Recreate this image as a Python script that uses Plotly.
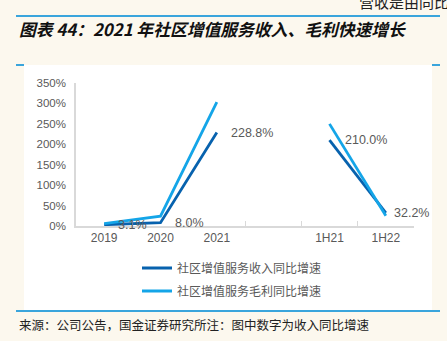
import plotly.graph_objects as go

categories = ["2019", "2020", "2021", " ", "1H21", "1H22"]
revenue_growth = [3.1, 8.0, 228.8, None, 210.0, 32.2]
margin_growth = [6.0, 24.0, 303.0, None, 250.0, 25.0]
y_ticks = [0, 50, 100, 150, 200, 250, 300, 350]
y_ticktext = [f"{v}%" for v in y_ticks]
label_text = ["3.1%", "8.0%", "228.8%", None, "210.0%", "32.2%"]

DARK = "#0762ae"
LIGHT = "#14a5e8"
GRAY = "#595959"
CREAM = "#fcf8ee"
ACCENT = "#3aa5dc"
NUM_FONT = "Liberation Sans, Arial, sans-serif"
CJK_FONT = "Noto Sans CJK SC, sans-serif"

W_PX, H_PX = 447, 341
L, R, T, B = 76, 414, 83, 226


def fx(px):
    return px / W_PX


def fy(py):
    return 1 - py / H_PX


fig = go.Figure()
fig.add_trace(go.Scatter(
    x=categories, y=revenue_growth, mode="lines", name="社区增值服务收入同比增速",
    line=dict(color=DARK, width=2.8), connectgaps=False, legend="legend"))
fig.add_trace(go.Scatter(
    x=categories, y=margin_growth, mode="lines", name="社区增值服务毛利同比增速",
    line=dict(color=LIGHT, width=2.8), connectgaps=False, legend="legend2"))

annotations = []
shifts = [12, 12, 12, 0, 13, 6]
for i, (v, t, s) in enumerate(zip(revenue_growth, label_text, shifts)):
    if v is None:
        continue
    annotations.append(dict(x=i, y=v, xref="x", yref="y", text=t, showarrow=False,
                            xanchor="left", yanchor="middle", xshift=s,
                            font=dict(family=NUM_FONT, size=12.5, color=GRAY)))

annotations.append(dict(x=fx(17), y=fy(29), xref="paper", yref="paper",
                        text="<b><i>图表 44：2021 年社区增值服务收入、毛利快速增长</i></b>",
                        showarrow=False, xanchor="left", yanchor="middle",
                        font=dict(family=CJK_FONT, size=16.8, color="#111111")))
annotations.append(dict(x=fx(17), y=fy(324), xref="paper", yref="paper",
                        text="来源：公司公告，国金证券研究所注：图中数字为收入同比增速",
                        showarrow=False, xanchor="left", yanchor="middle",
                        font=dict(family=CJK_FONT, size=12.5, color="#222222")))
annotations.append(dict(x=fx(357), y=1, xref="paper", yref="paper", yshift=-1,
                        text="营收是由同比", showarrow=False, xanchor="left",
                        yanchor="middle",
                        font=dict(family=CJK_FONT, size=15, color="#222222")))

shapes = [
    dict(type="rect", xref="paper", yref="paper", x0=fx(24), x1=fx(432), y0=fy(65), y1=fy(310),
         fillcolor="white", line=dict(width=0), layer="below"),
    dict(type="line", xref="paper", yref="paper", x0=fx(16), x1=fx(440), y0=fy(16), y1=fy(16),
         line=dict(color=ACCENT, width=2)),
    dict(type="line", xref="paper", yref="paper", x0=fx(16), x1=fx(440), y0=fy(311), y1=fy(311),
         line=dict(color=ACCENT, width=2)),
    dict(type="line", xref="paper", yref="paper", x0=fx(16), x1=fx(24), y0=fy(65), y1=fy(65),
         line=dict(color=ACCENT, width=2)),
    dict(type="line", xref="paper", yref="paper", x0=fx(432), x1=fx(440), y0=fy(65), y1=fy(65),
         line=dict(color=ACCENT, width=2)),
]

fig.update_layout(
    width=W_PX, height=H_PX,
    margin=dict(l=0, r=0, t=0, b=0, pad=0, autoexpand=False),
    paper_bgcolor=CREAM, plot_bgcolor="white",
    showlegend=True,
    legend=dict(x=fx(137), y=fy(268), xanchor="left", yanchor="middle",
                bgcolor="rgba(0,0,0,0)", font=dict(family=CJK_FONT, size=12, color=GRAY)),
    legend2=dict(x=fx(137), y=fy(291), xanchor="left", yanchor="middle",
                 bgcolor="rgba(0,0,0,0)", font=dict(family=CJK_FONT, size=12, color=GRAY)),
    annotations=annotations, shapes=shapes,
    xaxis=dict(type="category", categoryorder="array", categoryarray=categories,
               domain=[fx(L), fx(R)],
               range=[-0.5, len(categories) - 0.5], automargin=False,
               showgrid=False, showline=True, linecolor="#d9d9d9", linewidth=1.5,
               ticks="inside", ticklen=5, tickcolor="#d9d9d9", tickwidth=1,
               tickson="boundaries", tickangle=0,
               tickfont=dict(family=NUM_FONT, size=12, color=GRAY), zeroline=False),
    yaxis=dict(range=[0, 350], tickvals=y_ticks, ticktext=y_ticktext, showgrid=False,
               domain=[fy(B), fy(T)], automargin=False,
               showline=True, linecolor="#d9d9d9", linewidth=1.5, zeroline=False,
               ticks="outside", ticklen=6, tickcolor="rgba(0,0,0,0)",
               tickfont=dict(family=NUM_FONT, size=11.5, color=GRAY)),
)

fig.write_html("out.html")
